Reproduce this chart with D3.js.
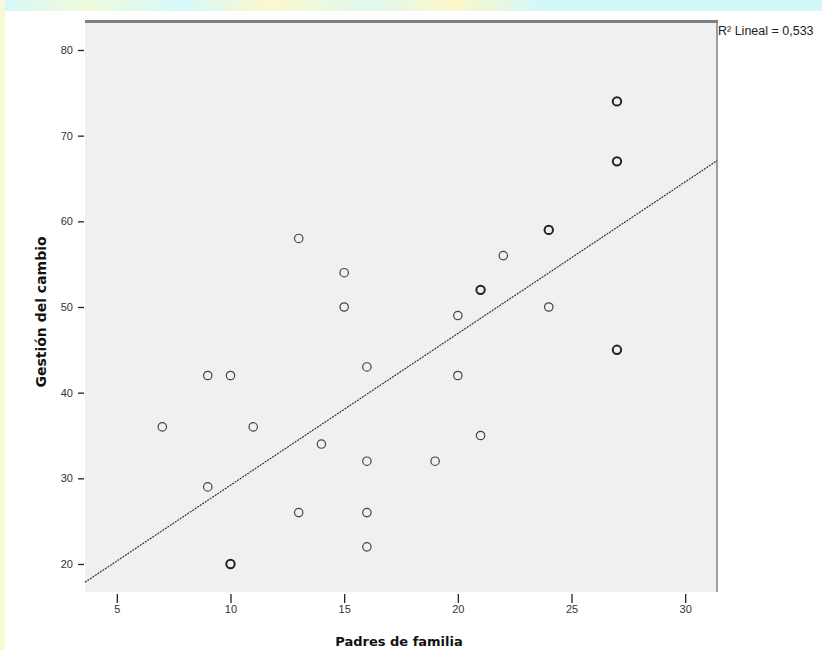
<!DOCTYPE html>
<html>
<head>
<meta charset="utf-8">
<script src="https://cdnjs.cloudflare.com/ajax/libs/d3/7.8.5/d3.min.js"></script>
<style>
  body { margin: 0; background: #ffffff; }
  svg { display: block; }
</style>
</head>
<body>
<script>
var width = 822, height = 650;

// data (repeated pairs are drawn as bolder rings)
var padres  = [7, 9, 10, 9, 10, 10, 11, 13, 13, 14, 15, 15, 16, 16, 16, 16,
               19, 20, 20, 21, 21, 21, 22, 24, 24, 24, 27, 27, 27, 27, 27, 27];
var gestion = [36, 42, 42, 29, 20, 20, 36, 58, 26, 34, 54, 50, 43, 32, 26, 22,
               32, 49, 42, 52, 52, 35, 56, 59, 59, 50, 74, 74, 67, 67, 45, 45];
var xTicks = [5, 10, 15, 20, 25, 30];
var yTicks = [20, 30, 40, 50, 60, 70, 80];
var fitIntercept = 11.5, fitSlope = 1.77;
var r2Label = "R² Lineal = 0,533";

// plot box (window.top is read-only, so use other names)
var pL = 85, pR = 717, pT = 20, pB = 592;

var svg = d3.select("body").append("svg")
  .attr("width", width).attr("height", height);

// faded backdrop strip at the top and left edge
var defs = svg.append("defs");
var grad = defs.append("linearGradient").attr("id", "band");
[["0%", "#d6f7fb"], ["10%", "#eefbdc"], ["22%", "#d6f8fb"], ["33%", "#fbf8cc"],
 ["45%", "#dff9f0"], ["55%", "#fcf7c8"], ["66%", "#d3f7fb"], ["100%", "#d3f7fb"]]
  .forEach(function(s) {
    grad.append("stop").attr("offset", s[0]).attr("stop-color", s[1]);
  });
svg.append("rect").attr("x", 0).attr("y", 0).attr("width", width).attr("height", 11)
  .attr("fill", "url(#band)");
svg.append("rect").attr("x", 0).attr("y", 0).attr("width", 5).attr("height", height)
  .attr("fill", "#f7f8d4");

var x = d3.scaleLinear().domain([3.6, 31.4]).range([pL, pR]);
var y = d3.scaleLinear().domain([16.73, 83.5]).range([pB, pT]);

svg.append("rect")
  .attr("x", pL).attr("y", pT)
  .attr("width", pR - pL).attr("height", pB - pT)
  .attr("fill", "#f0f0f0");

// top and right frame
svg.append("line").attr("x1", pL).attr("x2", pR + 1)
  .attr("y1", pT + 1.5).attr("y2", pT + 1.5)
  .attr("stroke", "#808080").attr("stroke-width", 3);
svg.append("line").attr("x1", pR).attr("x2", pR)
  .attr("y1", pT).attr("y2", pB)
  .attr("stroke", "#808080").attr("stroke-width", 1.5);

var yAxis = svg.append("g")
  .attr("transform", "translate(" + (pL - 1) + ",0)")
  .call(d3.axisLeft(y).tickValues(yTicks).tickSize(6).tickPadding(5));
var xAxis = svg.append("g")
  .attr("transform", "translate(0," + (pB + 2) + ")")
  .call(d3.axisBottom(x).tickValues(xTicks).tickSize(9).tickPadding(2));

[yAxis, xAxis].forEach(function(g) {
  g.select(".domain").remove();
  g.selectAll(".tick line").attr("stroke", "#222").attr("stroke-width", 1.3);
  g.selectAll(".tick text").attr("fill", "#333")
    .attr("font-family", "Liberation Sans, Arial, sans-serif").attr("font-size", 11);
});

// fit line
var xd = x.domain();
svg.append("line")
  .attr("x1", x(xd[0])).attr("y1", y(fitIntercept + fitSlope * xd[0]))
  .attr("x2", x(xd[1])).attr("y2", y(fitIntercept + fitSlope * xd[1]))
  .attr("stroke", "#333").attr("stroke-width", 1.2)
  .attr("stroke-dasharray", "2,1");

// points, grouped so duplicates get a heavier ring
var pts = d3.rollups(d3.range(padres.length),
  function(v) { return v.length; },
  function(i) { return padres[i] + "," + gestion[i]; })
  .map(function(d) {
    var p = d[0].split(",");
    return { px: +p[0], gy: +p[1], n: d[1] };
  });

svg.append("g").selectAll("circle").data(pts)
  .enter().append("circle")
  .attr("cx", function(d) { return x(d.px); })
  .attr("cy", function(d) { return y(d.gy); })
  .attr("r", 4.2)
  .attr("fill", "none")
  .attr("stroke", function(d) { return d.n > 1 ? "#222" : "#444"; })
  .attr("stroke-width", function(d) { return d.n > 1 ? 2 : 1.2; });

svg.append("text")
  .attr("x", pR + 1).attr("y", 35)
  .attr("font-family", "Liberation Sans, Arial, sans-serif").attr("font-size", 12.5)
  .attr("fill", "#222")
  .text(r2Label);

svg.append("text")
  .attr("x", (pL + pR) / 2 - 2).attr("y", 646)
  .attr("text-anchor", "middle")
  .attr("font-family", "DejaVu Sans, sans-serif").attr("font-size", 13)
  .attr("font-weight", "bold").attr("fill", "#111")
  .text("Padres de familia");

svg.append("text")
  .attr("transform", "translate(46," + ((pT + pB) / 2 + 6) + ") rotate(-90)")
  .attr("text-anchor", "middle")
  .attr("font-family", "DejaVu Sans, sans-serif").attr("font-size", 14)
  .attr("font-weight", "bold").attr("fill", "#111")
  .text("Gestión del cambio");
</script>
</body>
</html>
